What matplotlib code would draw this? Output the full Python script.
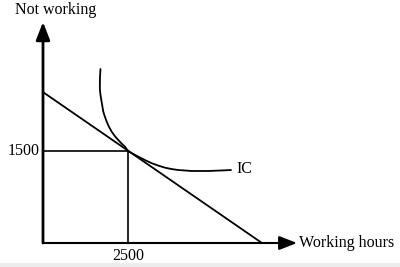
import matplotlib
matplotlib.use("Agg")
import matplotlib.pyplot as plt
from matplotlib.patches import Rectangle

# Data
budget_x = [0, 6440]
budget_y = [2460, 0]
point_x, point_y = 2500, 1500
ic_x = [1690, 1675, 1672, 1685, 1706, 1740, 1773, 1820, 1873, 1940, 2020, 2110, 2215, 2310, 2412, 2500,
        2650, 2803, 3000, 3197, 3390, 3588, 3780, 3979, 4373, 4862, 5353, 5529]
ic_y = [2837, 2685, 2522, 2440, 2359, 2250, 2141, 2060, 1978, 1895, 1815, 1745, 1679, 1622, 1570, 1500,
        1452, 1408, 1352, 1301, 1262, 1228, 1206, 1190, 1174, 1174, 1185, 1190]
x_tick_labels = ["2500"]
y_tick_labels = ["1500"]
x_label = "Working hours"
y_label = "Not working"
ic_label = "IC"

sx = 2500 / 85.0
sy = 1500 / 92.0

plt.rcParams['font.family'] = ['Liberation Serif', 'DejaVu Serif']
fig = plt.figure(figsize=(4, 2.67), dpi=100)
ax = fig.add_axes([0, 0, 1, 1])
ax.set_xlim(-43 * sx, 357 * sx)
ax.set_ylim((243 - 267) * sy, 243 * sy)
ax.axis('off')

xmax = (297 - 43) * sx
ymax = (243 - 22) * sy
ax.annotate('', xy=(xmax, 0), xytext=(0, 0),
            arrowprops=dict(arrowstyle='-|>,head_length=0.9,head_width=0.35', color='black', lw=1.5, shrinkA=0, shrinkB=0, mutation_scale=12))
ax.annotate('', xy=(0, ymax), xytext=(0, 0),
            arrowprops=dict(arrowstyle='-|>,head_length=0.9,head_width=0.35', color='black', lw=2.0, shrinkA=0, shrinkB=0, mutation_scale=12))

ax.plot(budget_x, budget_y, color='black', lw=1.3)
ax.plot(ic_x, ic_y, color='black', lw=1.3, solid_joinstyle='round', solid_capstyle='round')
ax.plot([0, point_x], [point_y, point_y], color='black', lw=1.2)
ax.plot([point_x, point_x], [0, point_y], color='black', lw=1.2)

fs = 11.5
ax.text(-3 * sx, point_y, y_tick_labels[0], ha='right', va='center', fontsize=fs)
ax.text(point_x, -13 * sy, x_tick_labels[0], ha='center', va='center', fontsize=fs)
ax.text((299 - 43) * sx, 0, x_label, ha='left', va='center', fontsize=fs)
ax.text((15 - 43) * sx, (243 - 9.5) * sy, y_label, ha='left', va='center', fontsize=fs)
ax.text((236 - 43) * sx, (243 - 169) * sy, ic_label, ha='left', va='center', fontsize=fs)

fig.patches.append(Rectangle((0, 0), 1, 4 / 267, transform=fig.transFigure, color='#ececec', zorder=0))

fig.savefig('out.png', dpi=100)
